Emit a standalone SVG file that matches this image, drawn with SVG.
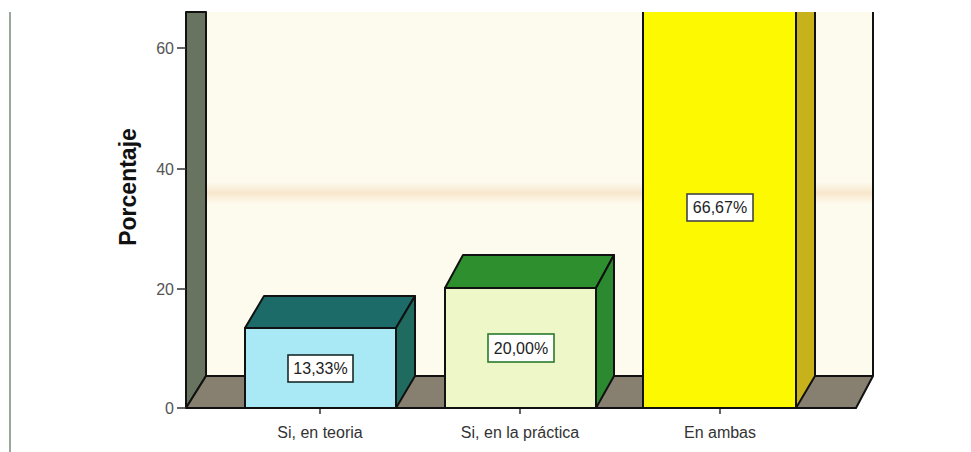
<svg xmlns="http://www.w3.org/2000/svg" width="971" height="452" viewBox="0 0 971 452">
<style>
.ol{stroke:#111;stroke-width:2;stroke-linejoin:round}
.tick{font-family:"Liberation Sans",Arial,sans-serif;font-size:16px;fill:#555}
.cat{font-family:"Liberation Sans",Arial,sans-serif;font-size:16px;fill:#333;text-anchor:middle}
.val{font-family:"Liberation Sans",Arial,sans-serif;font-size:16px;fill:#222;text-anchor:middle}
.box{fill:#fff;stroke-width:1.6}
</style>
<defs>
<clipPath id="plot"><rect x="0" y="12" width="971" height="440"/></clipPath>
<linearGradient id="band" x1="0" y1="0" x2="0" y2="1">
<stop offset="0" stop-color="#f0c89a" stop-opacity="0"/>
<stop offset="0.5" stop-color="#f0c89a" stop-opacity="0.4"/>
<stop offset="1" stop-color="#f0c89a" stop-opacity="0"/>
</linearGradient>
</defs>
<rect width="971" height="452" fill="#fff"/>
<line x1="10" y1="12" x2="10" y2="452" stroke="#7a8a7a" stroke-width="1.5"/>
<g id="frame">
<rect x="206" y="12" width="667" height="364" fill="#fdfbee"/>
<rect x="206" y="182" width="667" height="22" fill="url(#band)"/>
<polygon class="ol" points="186,12 206,12 206,376 186,408" fill="#687460"/>
<polygon class="ol" points="186,408 206,376 873,376 856,408" fill="#878070"/>
<line x1="873" y1="12" x2="873" y2="376" stroke="#111" stroke-width="2"/>
</g>
<g id="axis">
<g stroke="#333" stroke-width="1.5">
<line x1="177" y1="48" x2="186" y2="48"/>
<line x1="177" y1="169" x2="186" y2="169"/>
<line x1="177" y1="289" x2="186" y2="289"/>
<line x1="177" y1="408" x2="186" y2="408"/>
<line x1="320" y1="408" x2="320" y2="414"/>
<line x1="520" y1="408" x2="520" y2="414"/>
<line x1="720" y1="408" x2="720" y2="414"/>
</g>
<g class="tick" text-anchor="end">
<text x="174" y="54">60</text>
<text x="174" y="175">40</text>
<text x="174" y="295">20</text>
<text x="174" y="414">0</text>
</g>
<text transform="translate(136,187) rotate(-90)" text-anchor="middle" font-family="'Liberation Sans',Arial,sans-serif" font-size="23" font-weight="bold" fill="#111">Porcentaje</text>
<text class="cat" x="320" y="438">Si, en teoria</text>
<text class="cat" x="520" y="438">Si, en la práctica</text>
<text class="cat" x="720" y="438">En ambas</text>
</g>
<g id="bar1">
<polygon class="ol" points="245,328 264,296 415,296 396,328" fill="#1d6b68"/>
<polygon class="ol" points="396,328 415,296 415,376 396,408" fill="#206b60"/>
<rect class="ol" x="245" y="328" width="151" height="80" fill="#a9e9f6"/>
<rect class="box" x="288" y="355" width="65" height="27" stroke="#1a2a2a"/>
<text class="val" x="320.5" y="374">13,33%</text>
</g>
<g id="bar2">
<polygon class="ol" points="445,288 463,255 614,255 596,288" fill="#2e8f2e"/>
<polygon class="ol" points="596,288 614,255 614,376 596,408" fill="#2b8a30"/>
<rect class="ol" x="445" y="288" width="151" height="120" fill="#eef7c8"/>
<rect class="box" x="488" y="334" width="66" height="28" stroke="#2a7a2a"/>
<text class="val" x="521" y="354">20,00%</text>
</g>
<g id="bar3" clip-path="url(#plot)">
<polygon class="ol" points="796,8 815,-24 815,376 796,408" fill="#c8b21c"/>
<rect class="ol" x="643" y="8" width="153" height="400" fill="#fdf900"/>
<rect class="box" x="687" y="194" width="66" height="27" stroke="#444"/>
<text class="val" x="720" y="213">66,67%</text>
</g>
</svg>
